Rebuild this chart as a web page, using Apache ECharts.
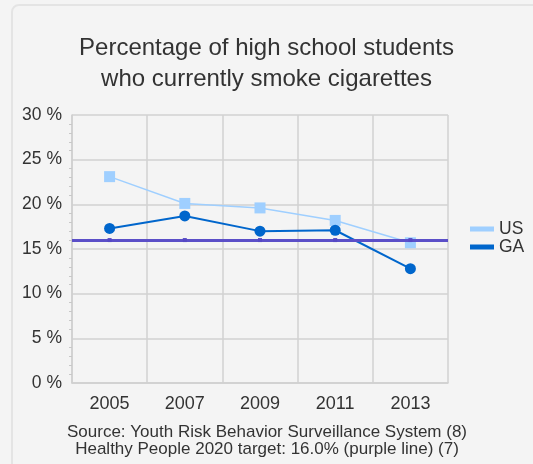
<!DOCTYPE html>
<html>
<head>
<meta charset="utf-8">
<script src="https://cdn.jsdelivr.net/npm/echarts@6/dist/echarts.min.js"></script>
<style>
  html, body { margin: 0; padding: 0; background: #f4f4f4; }
  #chart { width: 533px; height: 464px; }
</style>
</head>
<body>
<div id="chart"></div>
<script>
const years = ['2005', '2007', '2009', '2011', '2013']
const usValues = [23.1, 20.1, 19.6, 18.2, 15.7]
const gaValues = [17.3, 18.7, 17.0, 17.1, 12.8]
const targetValue = 16.0
const targetValues = years.map(() => targetValue)

const font = '"Liberation Sans", Arial, sans-serif'
const chart = echarts.init(document.getElementById('chart'))

const option = {
  backgroundColor: '#f4f4f4',
  animation: false,
  textStyle: { fontFamily: font },
  graphic: [
    {
      type: 'rect',
      shape: { x: 12, y: 5, width: 560, height: 520, r: 7 },
      style: { fill: '#f4f4f4', stroke: '#e4e4e4', lineWidth: 2 },
      z: -10
    }
  ],
  title: [
    {
      text: 'Percentage of high school students\nwho currently smoke cigarettes',
      left: 'center',
      top: 28,
      textStyle: { fontFamily: font, fontSize: 24, fontWeight: 'normal', color: '#333', lineHeight: 31 }
    },
    {
      text: 'Source: Youth Risk Behavior Surveillance System (8)\nHealthy People 2020 target: 16.0% (purple line) (7)',
      left: 262,
      textAlign: 'center',
      top: 419,
      textStyle: { fontFamily: font, fontSize: 17, fontWeight: 'normal', color: '#333', lineHeight: 17 }
    }
  ],
  legend: {
    orient: 'vertical',
    left: 465,
    top: 215,
    icon: 'rect',
    itemWidth: 24,
    itemHeight: 5,
    itemGap: 0,
    data: ['US', 'GA'],
    textStyle: { fontFamily: font, fontSize: 17.5, color: '#333' }
  },
  grid: { left: 72, right: 85, top: 115, bottom: 81 },
  xAxis: {
    type: 'category',
    data: years,
    boundaryGap: true,
    axisLine: { lineStyle: { color: '#cfcfcf', width: 1.5 } },
    axisTick: { show: false },
    axisLabel: { color: '#333', fontSize: 18, margin: 12, fontFamily: font },
    splitLine: { show: true, lineStyle: { color: '#d2d2d2', width: 1.5 } }
  },
  yAxis: {
    type: 'value',
    min: 0,
    max: 30,
    interval: 5,
    axisLine: { show: true, lineStyle: { color: '#cfcfcf', width: 1.5 } },
    axisTick: { show: false },
    minorTick: { show: true, splitNumber: 5, length: 3, lineStyle: { color: '#c8c8c8' } },
    axisLabel: { color: '#333', fontSize: 17.5, margin: 10, formatter: '{value} %', fontFamily: font },
    splitLine: { lineStyle: { color: '#d2d2d2', width: 1.5 } }
  },
  series: [
    {
      name: 'US',
      type: 'line',
      data: usValues,
      color: '#9fcfff',
      symbol: 'rect',
      symbolSize: 11,
      lineStyle: { width: 1.5 },
      z: 2
    },
    {
      name: 'GA',
      type: 'line',
      data: gaValues,
      color: '#0066cc',
      symbol: 'circle',
      symbolSize: 11,
      lineStyle: { width: 2 },
      z: 3
    },
    {
      name: 'Target',
      type: 'line',
      data: targetValues,
      color: '#5548c4',
      symbol: 'rect',
      symbolSize: 4,
      lineStyle: { width: 0 },
      z: 5,
      markLine: {
        silent: true,
        symbol: 'none',
        label: { show: false },
        lineStyle: { color: '#5b4fc8', width: 3, type: 'solid' },
        data: [{ yAxis: targetValue }]
      }
    }
  ]
}

chart.setOption(option)
</script>
</body>
</html>
